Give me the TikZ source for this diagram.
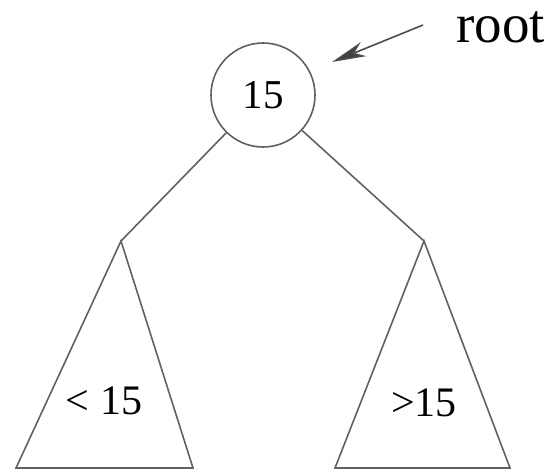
\documentclass[tikz,border=0pt]{standalone}
\usepackage{fontspec}
\setmainfont{Liberation Serif}
\usetikzlibrary{arrows.meta}
\begin{document}
\begin{tikzpicture}[x=1pt,y=-1pt,
  edge/.style={draw=black!62,line width=1.6pt},
  keynode/.style={circle,draw=black!62,line width=1.6pt,minimum size=104pt,inner sep=0pt,font=\fontsize{41}{41}\selectfont},
  lbl/.style={inner sep=0pt,font=\fontsize{42}{42}\selectfont}]
\useasboundingbox (0,0) rectangle (551,472);
\node[keynode] (r) at (263,95) {\raisebox{-4pt}{15}};
\node[inner sep=0pt,anchor=base west,font=\fontsize{55}{55}\selectfont] (rootlbl) at (456,42) {root};
\coordinate (at) at (423,25);
\coordinate (ah) at (332,62);
\draw[edge,draw=black!70,-{Stealth[length=34pt,width=15pt,inset=10pt,fill=black!75]}] (at) -- (ah);
\coordinate (la) at (121,241);
\coordinate (ll) at (16,468);
\coordinate (lr) at (193,468);
\coordinate (ra) at (424,241);
\coordinate (rl) at (335,468);
\coordinate (rr) at (510,468);
\draw[edge] (r) -- (la);
\draw[edge] (r) -- (ra);
\draw[edge,line join=miter] (la) -- (ll) -- (lr) -- cycle;
\draw[edge,line join=miter] (ra) -- (rl) -- (rr) -- cycle;
\node[lbl] (lt) at (104,401) {< 15};
\node[lbl] (rt) at (424,403) {>15};
\end{tikzpicture}
\end{document}
